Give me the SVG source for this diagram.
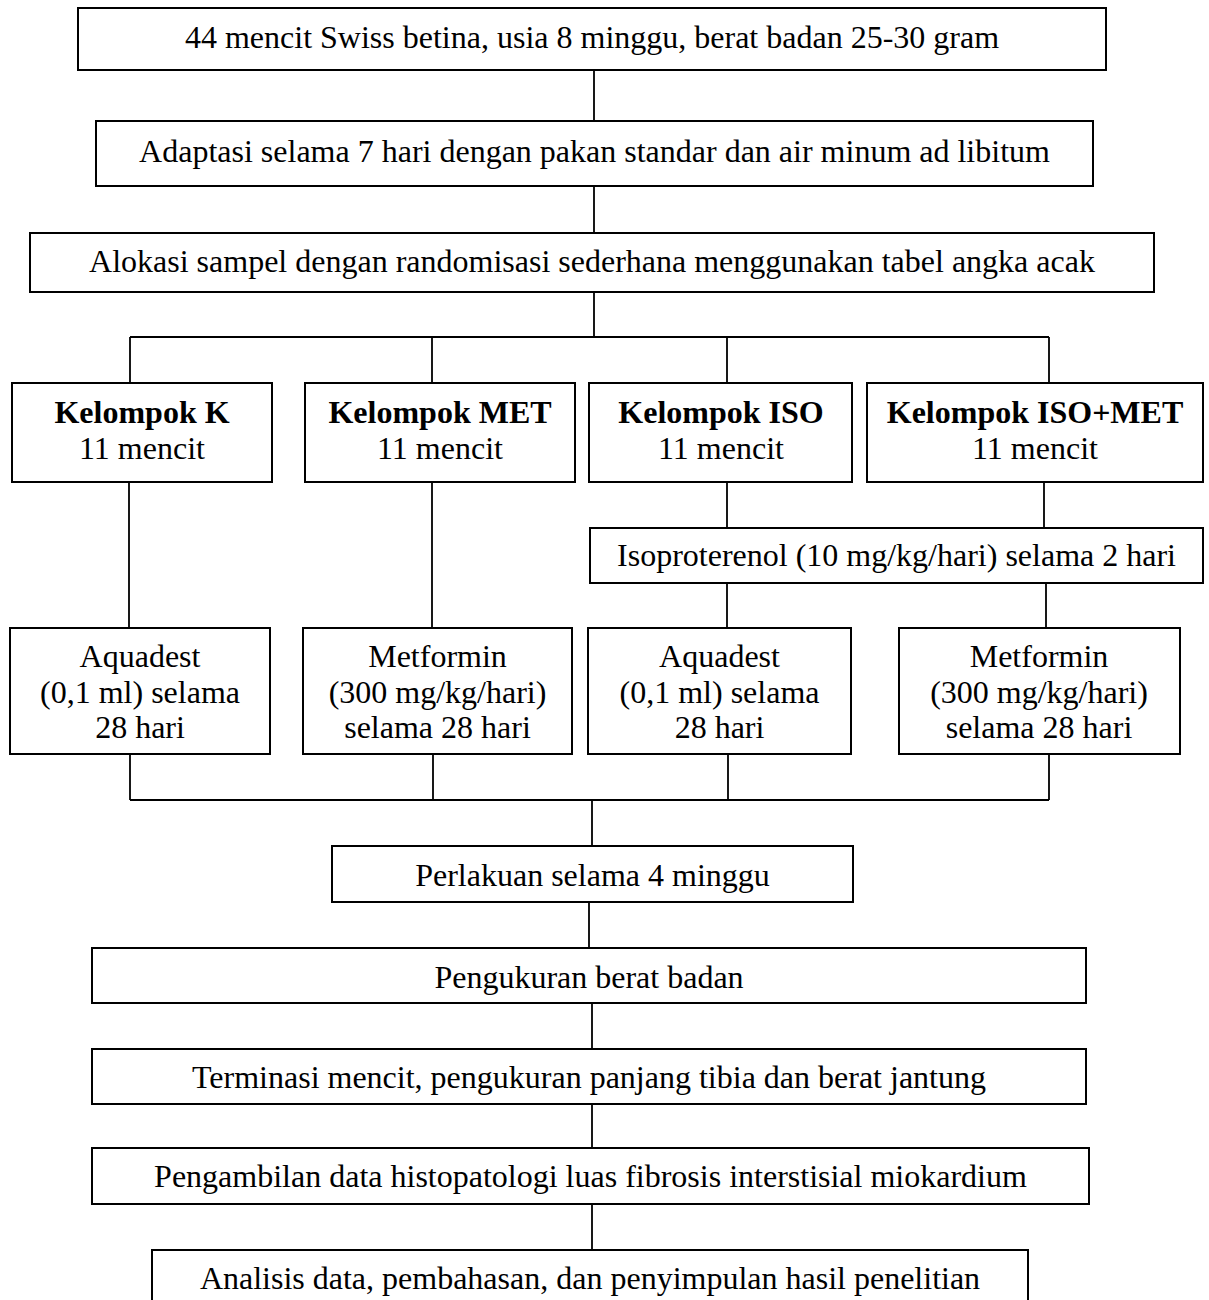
<svg xmlns="http://www.w3.org/2000/svg" width="1209" height="1300" viewBox="0 0 1209 1300">
<style>
.b{fill:#fff;stroke:#000;stroke-width:2}
.t{font-family:"Liberation Serif","Times New Roman",serif;font-size:32px;fill:#000;text-anchor:middle}
.bd{font-weight:bold}
.c{stroke:#000;stroke-width:1.8;fill:none}
</style>
<rect width="1209" height="1300" fill="#fff"/>
<g id="connectors">
<path class="c" d="M594,70V121M594,186V233M594,292V337M130,337H1049M130,337V383M432,337V383M727,337V383M1049,337V383"/>
<path class="c" d="M129,482V628M432,482V628M727,482V528M1044,482V528M727,583V628M1046,583V628"/>
<path class="c" d="M130,754V800M433,754V800M728,754V800M1049,754V800M130,800H1049M592,800V846"/>
<path class="c" d="M589,902V948M592,1003V1049M592,1104V1148M592,1204V1250"/>
</g>
<g id="n1"><rect class="b" x="78" y="8" width="1028" height="62"/><text class="t" x="592" y="48">44 mencit Swiss betina, usia 8 minggu, berat badan 25-30 gram</text></g>
<g id="n2"><rect class="b" x="96" y="121" width="997" height="65"/><text class="t" x="594.5" y="162">Adaptasi selama 7 hari dengan pakan standar dan air minum ad libitum</text></g>
<g id="n3"><rect class="b" x="30" y="233" width="1124" height="59"/><text class="t" x="592" y="272">Alokasi sampel dengan randomisasi sederhana menggunakan tabel angka acak</text></g>
<g id="gK"><rect class="b" x="12" y="383" width="260" height="99"/><text class="t bd" x="142" y="423">Kelompok K</text><text class="t" x="142" y="459">11 mencit</text></g>
<g id="gMET"><rect class="b" x="305" y="383" width="270" height="99"/><text class="t bd" x="440" y="423">Kelompok MET</text><text class="t" x="440" y="459">11 mencit</text></g>
<g id="gISO"><rect class="b" x="589" y="383" width="263" height="99"/><text class="t bd" x="721" y="423">Kelompok ISO</text><text class="t" x="721" y="459">11 mencit</text></g>
<g id="gISOMET"><rect class="b" x="867" y="383" width="336" height="99"/><text class="t bd" x="1035" y="423">Kelompok ISO+MET</text><text class="t" x="1035" y="459">11 mencit</text></g>
<g id="iso"><rect class="b" x="590" y="528" width="613" height="55"/><text class="t" x="896.5" y="566">Isoproterenol (10 mg/kg/hari) selama 2 hari</text></g>
<g id="tK"><rect class="b" x="10" y="628" width="260" height="126"/><text class="t" x="140" y="667">Aquadest</text><text class="t" x="140" y="703">(0,1 ml) selama</text><text class="t" x="140" y="738">28 hari</text></g>
<g id="tMET"><rect class="b" x="303" y="628" width="269" height="126"/><text class="t" x="437.5" y="667">Metformin</text><text class="t" x="437.5" y="703">(300 mg/kg/hari)</text><text class="t" x="437.5" y="738">selama 28 hari</text></g>
<g id="tISO"><rect class="b" x="588" y="628" width="263" height="126"/><text class="t" x="719.5" y="667">Aquadest</text><text class="t" x="719.5" y="703">(0,1 ml) selama</text><text class="t" x="719.5" y="738">28 hari</text></g>
<g id="tISOMET"><rect class="b" x="899" y="628" width="281" height="126"/><text class="t" x="1039" y="667">Metformin</text><text class="t" x="1039" y="703">(300 mg/kg/hari)</text><text class="t" x="1039" y="738">selama 28 hari</text></g>
<g id="n4"><rect class="b" x="332" y="846" width="521" height="56"/><text class="t" x="592.5" y="886">Perlakuan selama 4 minggu</text></g>
<g id="n5"><rect class="b" x="92" y="948" width="994" height="55"/><text class="t" x="589" y="988">Pengukuran berat badan</text></g>
<g id="n6"><rect class="b" x="92" y="1049" width="994" height="55"/><text class="t" x="589" y="1088">Terminasi mencit, pengukuran panjang tibia dan berat jantung</text></g>
<g id="n7"><rect class="b" x="92" y="1148" width="997" height="56"/><text class="t" x="590.5" y="1187">Pengambilan data histopatologi luas fibrosis interstisial miokardium</text></g>
<g id="n8"><rect class="b" x="152" y="1250" width="876" height="70"/><text class="t" x="590" y="1289">Analisis data, pembahasan, dan penyimpulan hasil penelitian</text></g>
</svg>
